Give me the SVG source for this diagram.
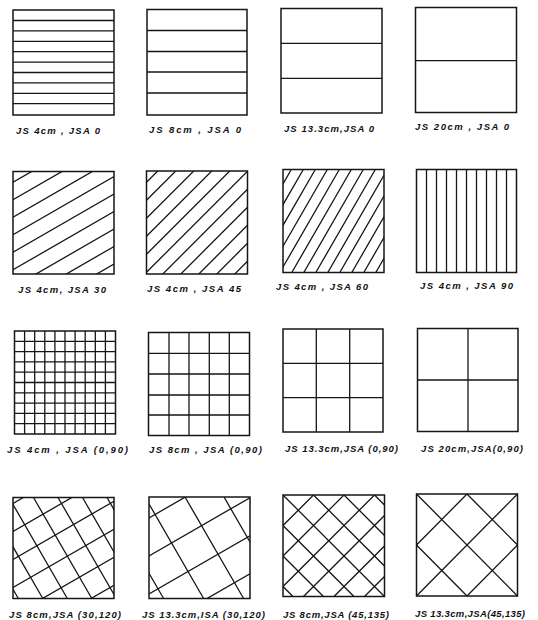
<svg xmlns="http://www.w3.org/2000/svg" width="538" height="620" viewBox="0 0 538 620">
<style>
.bx{fill:#fff;stroke:#161616;stroke-width:1.5}
.h{stroke:#161616;stroke-width:1.3;fill:none}
.lb{font-family:"Liberation Sans",Arial,sans-serif;font-style:italic;font-weight:bold;font-size:9.5px;fill:#111}
</style>
<defs>
<clipPath id="cB1"><rect x="13" y="171.5" width="101" height="102.5"/></clipPath>
<clipPath id="cB2"><rect x="146.5" y="171" width="101" height="103"/></clipPath>
<clipPath id="cB3"><rect x="283" y="169.5" width="101" height="103"/></clipPath>
<clipPath id="cD1"><rect x="13" y="497.5" width="101" height="101"/></clipPath>
<clipPath id="cD2"><rect x="149" y="497" width="101" height="101.5"/></clipPath>
<clipPath id="cD3"><rect x="283" y="495" width="101.5" height="101.5"/></clipPath>
</defs>
<rect width="538" height="620" fill="#fff"/>

<!-- Row 1 -->
<g id="a1">
<rect class="bx" x="13" y="10" width="101" height="105"/>
<path class="h" d="M13 20.5H114M13 30.9H114M13 41.3H114M13 51.7H114M13 62.1H114M13 72.5H114M13 82.9H114M13 93.3H114M13 103.7H114"/>
<text class="lb" x="16" y="133.5" textLength="84" lengthAdjust="spacing">JS 4cm , JSA 0</text>
</g>
<g id="a2">
<rect class="bx" x="147" y="9.5" width="100" height="105.5"/>
<path class="h" d="M147 30.5H247M147 51.5H247M147 72H247M147 93H247"/>
<text class="lb" x="149" y="133" textLength="92" lengthAdjust="spacing">JS 8cm , JSA 0</text>
</g>
<g id="a3">
<rect class="bx" x="281" y="8.5" width="101" height="104.5"/>
<path class="h" d="M281 43.3H382M281 78.3H382"/>
<text class="lb" x="284" y="131.5" textLength="90" lengthAdjust="spacing">JS 13.3cm,JSA 0</text>
</g>
<g id="a4">
<rect class="bx" x="415.5" y="7.5" width="101" height="105"/>
<path class="h" d="M415.5 60.7H516.5"/>
<text class="lb" x="415" y="130" textLength="94" lengthAdjust="spacing">JS 20cm , JSA 0</text>
</g>

<!-- Row 2 -->
<g id="b1">
<rect class="bx" x="13" y="171.5" width="101" height="102.5"/>
<g clip-path="url(#cB1)">
<path class="h" d="M13 182.3L114 124M13 199.8L114 141.5M13 217.3L114 159M13 234.8L114 176.5M13 252.3L114 194M13 269.8L114 211.5M13 287.3L114 229M13 304.8L114 246.5M13 322.3L114 264"/>
</g>
<text class="lb" x="18" y="293" textLength="88" lengthAdjust="spacing">JS 4cm, JSA 30</text>
</g>
<g id="b2">
<rect class="bx" x="146.5" y="171" width="101" height="103"/>
<g clip-path="url(#cB2)">
<path class="h" d="M146.5 182.3L247.5 81.3M146.5 200.3L247.5 99.3M146.5 218.3L247.5 117.3M146.5 236.3L247.5 135.3M146.5 254.3L247.5 153.3M146.5 272.3L247.5 171.3M146.5 290.3L247.5 189.3M146.5 308.3L247.5 207.3M146.5 326.3L247.5 225.3M146.5 344.3L247.5 243.3M146.5 362.3L247.5 261.3"/>
</g>
<text class="lb" x="147" y="292" textLength="94" lengthAdjust="spacing">JS 4cm , JSA 45</text>
</g>
<g id="b3">
<rect class="bx" x="283" y="169.5" width="101" height="103"/>
<g clip-path="url(#cB3)">
<path class="h" d="M291.3 169.5L231.8 272.5M303.3 169.5L243.8 272.5M315.3 169.5L255.8 272.5M327.3 169.5L267.8 272.5M339.3 169.5L279.8 272.5M351.3 169.5L291.8 272.5M363.3 169.5L303.8 272.5M375.3 169.5L315.8 272.5M387.3 169.5L327.8 272.5M399.3 169.5L339.8 272.5M411.3 169.5L351.8 272.5M423.3 169.5L363.8 272.5M435.3 169.5L375.8 272.5"/>
</g>
<text class="lb" x="276" y="290" textLength="92" lengthAdjust="spacing">JS 4cm , JSA 60</text>
</g>
<g id="b4">
<rect class="bx" x="416.5" y="169.5" width="100" height="103"/>
<path class="h" d="M426.5 169.5V272.5M436.5 169.5V272.5M446.5 169.5V272.5M456.5 169.5V272.5M466.5 169.5V272.5M476.5 169.5V272.5M486.5 169.5V272.5M496.5 169.5V272.5M506.5 169.5V272.5"/>
<text class="lb" x="420" y="288.5" textLength="93" lengthAdjust="spacing">JS 4cm , JSA 90</text>
</g>

<!-- Row 3 -->
<g id="c1">
<rect class="bx" x="14.5" y="331" width="101" height="103"/>
<path class="h" d="M24.6 331V434M34.7 331V434M44.8 331V434M54.9 331V434M65 331V434M75.1 331V434M85.2 331V434M95.3 331V434M105.4 331V434M14.5 341.3H115.5M14.5 351.6H115.5M14.5 361.9H115.5M14.5 372.2H115.5M14.5 382.5H115.5M14.5 392.8H115.5M14.5 403.1H115.5M14.5 413.4H115.5M14.5 423.7H115.5"/>
<text class="lb" x="7" y="453" textLength="121" lengthAdjust="spacing">JS 4cm , JSA (0,90)</text>
</g>
<g id="c2">
<rect class="bx" x="148.5" y="332.5" width="101" height="103"/>
<path class="h" d="M169 332.5V435.5M189 332.5V435.5M209.3 332.5V435.5M229.3 332.5V435.5M148.5 353.3H249.5M148.5 374H249.5M148.5 395H249.5M148.5 415H249.5"/>
<text class="lb" x="149" y="453" textLength="113" lengthAdjust="spacing">JS 8cm , JSA (0,90)</text>
</g>
<g id="c3">
<rect class="bx" x="283" y="329" width="100" height="103"/>
<path class="h" d="M316.3 329V432M349.7 329V432M283 363.3H383M283 397.7H383"/>
<text class="lb" x="285" y="451.5" textLength="113" lengthAdjust="spacing">JS 13.3cm,JSA (0,90)</text>
</g>
<g id="c4">
<rect class="bx" x="417.5" y="328.5" width="100.5" height="103"/>
<path class="h" d="M468 328.5V431.5M417.5 380H518"/>
<text class="lb" x="421" y="451.5" textLength="102" lengthAdjust="spacing">JS 20cm,JSA(0,90)</text>
</g>

<!-- Row 4 -->
<g id="d1">
<rect class="bx" x="13" y="497.5" width="101" height="101"/>
<g clip-path="url(#cD1)">
<path class="h" d="M13 503.5L114 445.2M13 531.5L114 473.2M13 559.5L114 501.2M13 587.5L114 529.2M13 615.5L114 557.2M13 643.5L114 585.2"/>
<path class="h" d="M-40 497.5L18.3 598.5M-15.5 497.5L42.8 598.5M9 497.5L67.3 598.5M33.5 497.5L91.8 598.5M58 497.5L116.3 598.5M82.5 497.5L140.8 598.5M107 497.5L165.3 598.5"/>
</g>
<text class="lb" x="9" y="618" textLength="112" lengthAdjust="spacing">JS 8cm,JSA (30,120)</text>
</g>
<g id="d2">
<rect class="bx" x="149" y="497" width="101" height="101.5"/>
<g clip-path="url(#cD2)">
<path class="h" d="M149 518L250 459.7M149 556L250 497.7M149 594L250 535.7M149 632L250 573.7"/>
<path class="h" d="M105 497L163.6 598.5M145 497L203.6 598.5M185 497L243.6 598.5M224 497L282.6 598.5"/>
</g>
<text class="lb" x="142" y="618" textLength="123" lengthAdjust="spacing">JS 13.3cm,ISA (30,120)</text>
</g>
<g id="d3">
<rect class="bx" x="283" y="495" width="101.5" height="101.5"/>
<g clip-path="url(#cD3)">
<path class="h" d="M191.5 495L293 596.5M222 495L323.5 596.5M252.5 495L354 596.5M283 495L384.5 596.5M313.5 495L415 596.5M344 495L445.5 596.5M374.5 495L476 596.5"/>
<path class="h" d="M313.5 495L212 596.5M344 495L242.5 596.5M374.5 495L273 596.5M405 495L303.5 596.5M435.5 495L334 596.5M466 495L364.5 596.5"/>
</g>
<text class="lb" x="283" y="618" textLength="106" lengthAdjust="spacing">JS 8cm,JSA (45,135)</text>
</g>
<g id="d4">
<rect class="bx" x="416.5" y="494" width="101" height="102"/>
<path class="h" d="M416.5 494L517.5 596M467 494L517.5 545M416.5 545L467 596M467 494L416.5 545M517.5 494L416.5 596M517.5 545L467 596"/>
<text class="lb" x="415" y="616.5" textLength="110" lengthAdjust="spacing">JS 13.3cm,JSA(45,135)</text>
</g>
<g id="connectors"/>
</svg>
